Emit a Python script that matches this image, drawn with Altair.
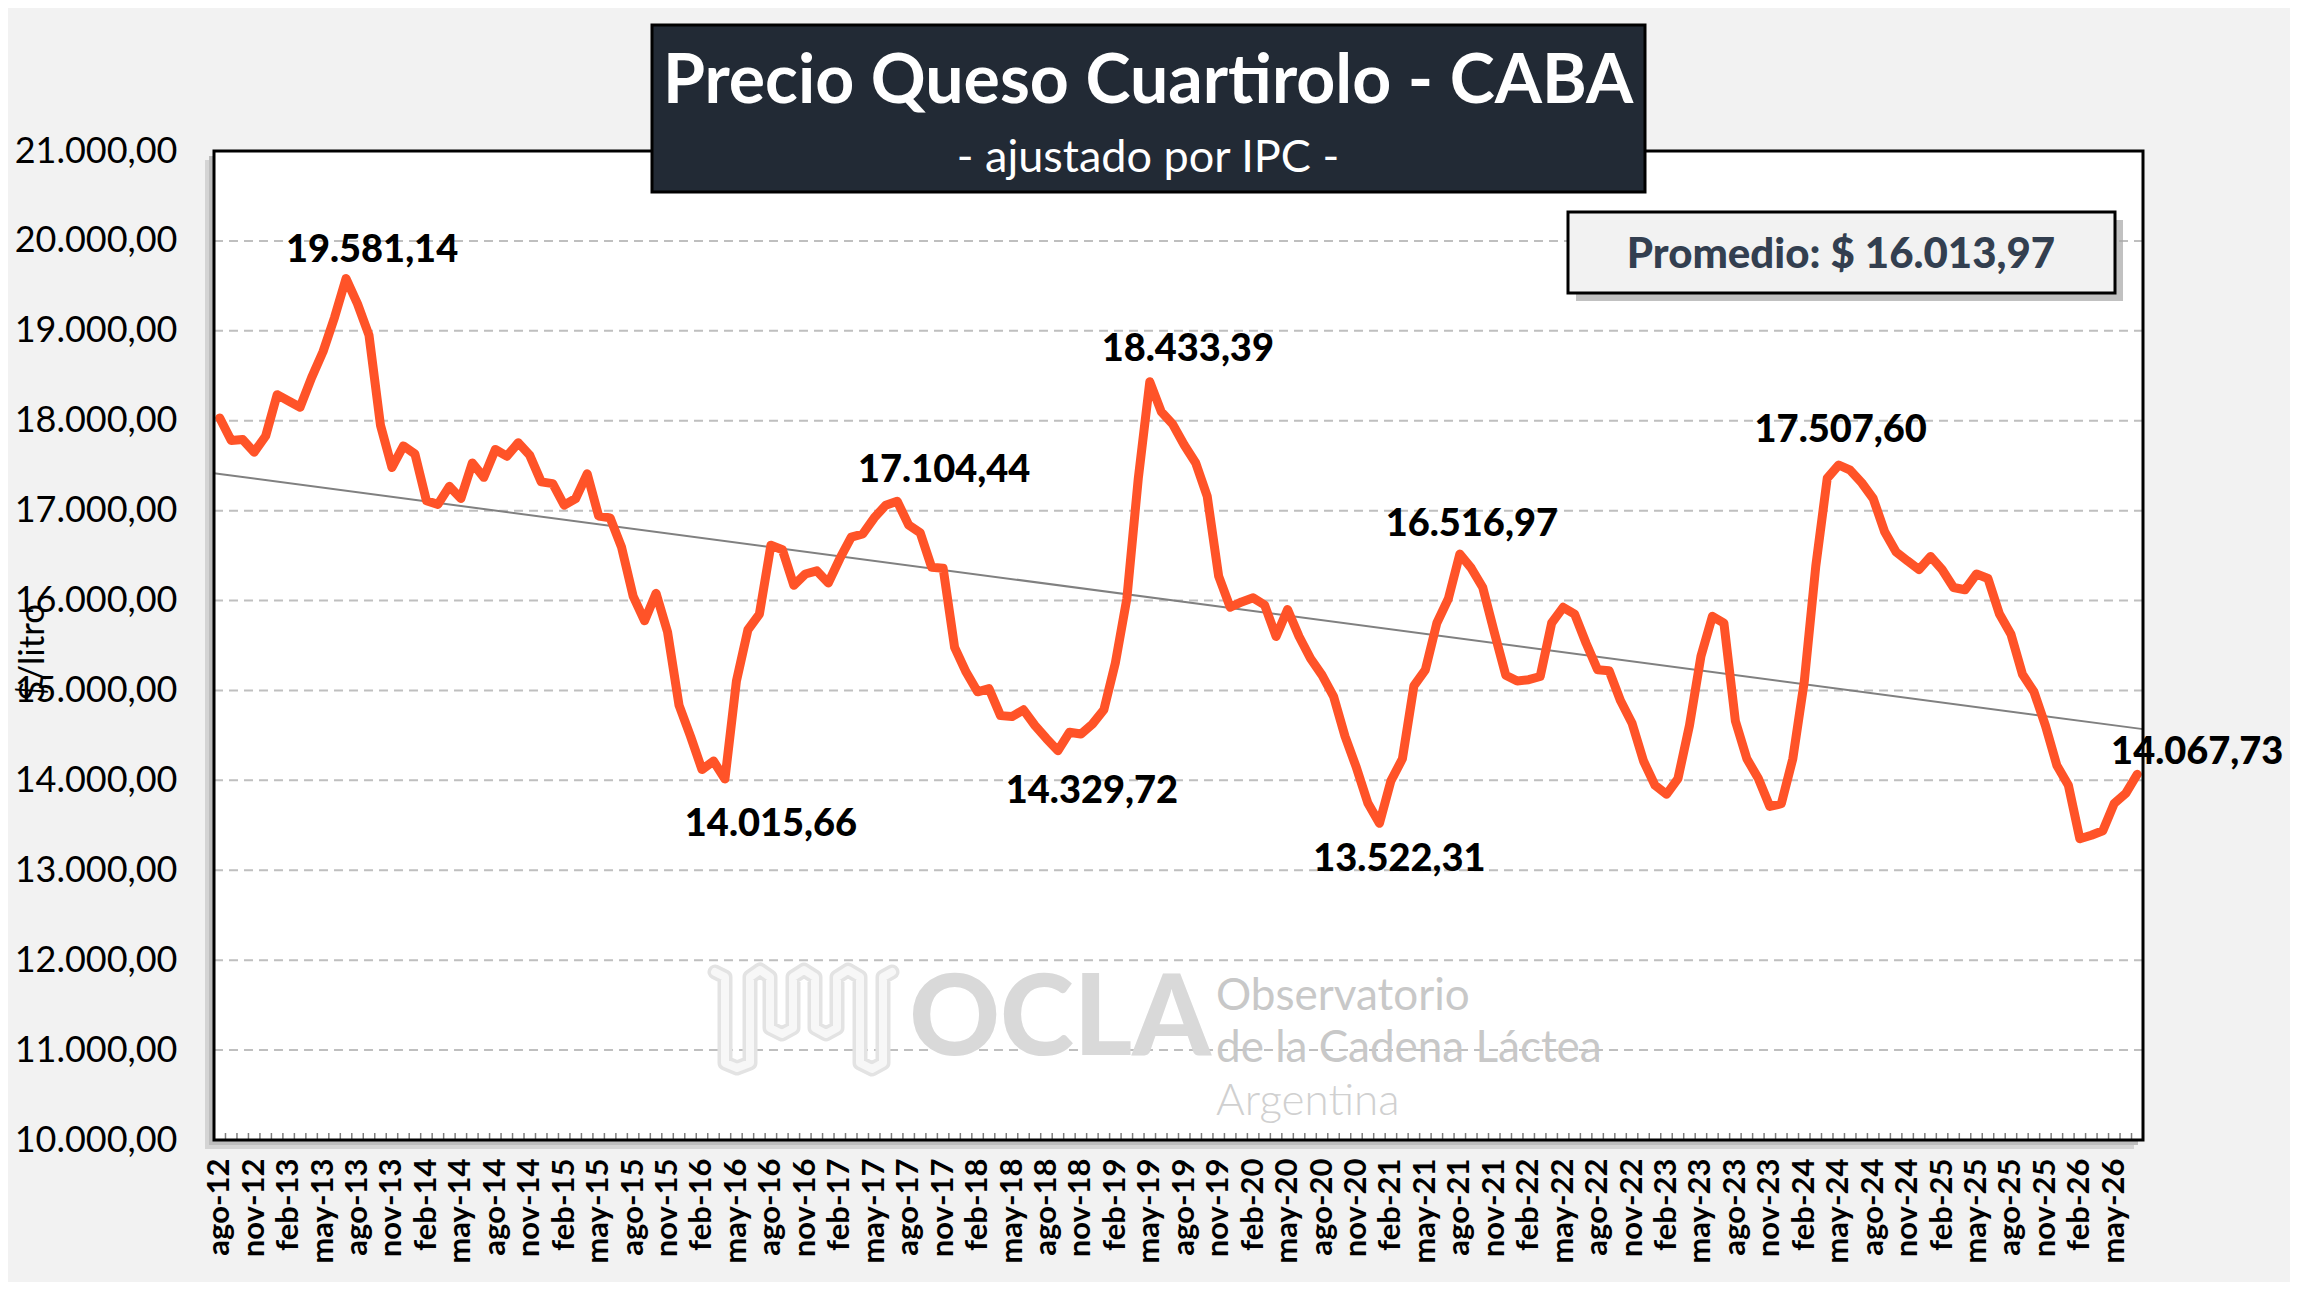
import altair as alt
import pandas as pd

"""
Precio Queso Cuartirolo - CABA (ajustado por IPC)
"""
# datos
meses = ['ene', 'feb', 'mar', 'abr', 'may', 'jun', 'jul', 'ago', 'sep', 'oct', 'nov', 'dic']
anios = list(range(12, 27))

precio = [
    18030, 17780, 17790, 17650, 17830, 18290, 18220, 18150, 18480, 18770,
    19150, 19581.14, 19300, 18950, 17950, 17480, 17720, 17630, 17110, 17070,
    17270, 17135, 17530, 17370, 17680, 17605, 17755, 17615, 17320, 17300,
    17060, 17135, 17410, 16940, 16920, 16590, 16050, 15775, 16080, 15650,
    14835, 14490, 14120, 14215, 14015.66, 15105, 15675, 15850, 16615, 16565,
    16170, 16295, 16330, 16195, 16465, 16705, 16740, 16920, 17060, 17104.44,
    16840, 16755, 16370, 16360, 15480, 15205, 14985, 15020, 14720, 14710,
    14785, 14610, 14465, 14329.72, 14535, 14515, 14625, 14785, 15305, 16020,
    17360, 18433.39, 18100, 17960, 17730, 17530, 17160, 16270, 15925, 15985,
    16030, 15950, 15600, 15900, 15600, 15355, 15170, 14935, 14490, 14140,
    13745, 13522.31, 13995, 14240, 15050, 15230, 15750, 16020, 16516.97, 16360,
    16145, 15650, 15170, 15105, 15120, 15155, 15750, 15925, 15850, 15525,
    15230, 15220, 14885, 14635, 14215, 13945, 13845, 14020, 14610, 15380,
    15825, 15750, 14660, 14240, 14020, 13710, 13740, 14240, 15100, 16380,
    17360, 17507.60, 17450, 17310, 17135, 16765, 16540, 16440, 16345, 16490,
    16345, 16145, 16120, 16295, 16245, 15850, 15625, 15180, 14985, 14610,
    14165, 13945, 13350, 13390, 13440, 13745, 13855, 14067.73,
]

# meses etiquetados con su valor (picos y valles)
destacados = [11, 44, 59, 73, 81, 101, 108, 141, 167]
# desplazamiento de cada etiqueta (px)
etiqueta_dx = [26, 46, 47, 34, 38, 20, 12, 2, 60]
etiqueta_dy = [-28, 46, -30, 41, -32, 37, -29, -34, -21]

y_ticks = list(range(10000, 21001, 1000))
promedio_txt = 'Promedio: $ 16.013,97'

# trazo del logo (px, relativo al area de grafico)
logo_x = [501, 511, 511, 523, 536, 536, 546, 556, 556, 568, 579, 579, 590, 601,
          601, 612, 623, 623, 634, 646, 646, 658, 669, 669, 678]
logo_y = [821, 826, 912, 917, 912, 826, 819, 826, 877, 883, 877, 826, 819, 826,
          877, 883, 877, 826, 819, 826, 912, 918, 912, 826, 821]

# armado de tablas
etiquetas_mes = [f'{m}-{a}' for a in anios for m in meses][7:7 + len(precio)]
df = pd.DataFrame({'idx': range(len(precio)), 'mes': etiquetas_mes, 'val': precio})


def fmt_es(v):
    return f'{v:,.2f}'.replace(',', 'X').replace('.', ',').replace('X', '.')


W, H = 1929, 989
FONT = 'Lato'
NARANJA = '#FF5328'

x_scale = alt.Scale(domain=[-0.5, len(precio) - 0.5], nice=False, zero=False)
y_scale = alt.Scale(domain=[10000, 21000], nice=False, zero=False)
lbl_expr = '[' + ','.join(f"'{e}'" for e in etiquetas_mes) + '][datum.value]'

# ejes (el mismo objeto en todas las capas)
x_axis = alt.Axis(values=list(range(0, len(precio), 3)), labelExpr=lbl_expr,
                  labelAngle=270, labelAlign='right', labelBaseline='middle',
                  labelFont=FONT, labelFontSize=31, labelFontWeight='bold',
                  labelColor='black', labelPadding=18, labelOverlap=False,
                  ticks=False, domain=False, grid=False, title='')
y_axis = alt.Axis(values=y_ticks, labelExpr="format(datum.value / 1000, 'd') + '.000,00'",
                  labelFont=FONT, labelFontSize=36, labelColor='black',
                  labelPadding=37, ticks=False, domain=False, grid=False,
                  title='$/litro', titleFont=FONT, titleFontSize=35,
                  titleFontWeight='normal', titleColor='black', titleAngle=270,
                  titleX=-182, titleY=501, titleAlign='center', titleBaseline='middle')

uno = pd.DataFrame({'a': [0]})

# sombra + fondo del area de grafico
sombra = alt.Chart(uno).mark_rect(color='#D4D4D4').encode(
    x=alt.value(-9), x2=alt.value(W - 9), y=alt.value(9), y2=alt.value(H + 9))
sombra2 = alt.Chart(uno).mark_rect(color='#BDBDBD').encode(
    x=alt.value(-5), x2=alt.value(W - 5), y=alt.value(5), y2=alt.value(H + 5))
fondo = alt.Chart(uno).mark_rect(color='white').encode(
    x=alt.value(0), x2=alt.value(W), y=alt.value(0), y2=alt.value(H))

# grilla
grilla = alt.Chart(pd.DataFrame({'val': y_ticks[1:-1]})).mark_rule(
    color='#BFBFBF', strokeWidth=2, strokeDash=[9, 6]
).encode(y=alt.Y('val:Q', scale=y_scale, axis=y_axis))

# marcas del eje x
limites = pd.DataFrame({'idx': [i - 0.5 for i in range(1, len(precio))]})
marcas = alt.Chart(limites).mark_rule(color='#7F7F7F', strokeWidth=1.5).encode(
    x=alt.X('idx:Q', scale=x_scale, axis=x_axis),
    y=alt.value(H - 7), y2=alt.value(H))

# marca de agua
logo_df = pd.DataFrame({'px': logo_x, 'py': logo_y, 'o': range(len(logo_x))})
logo = [
    alt.Chart(logo_df).mark_line(color='#E3E3E3', strokeWidth=15, strokeJoin='round',
                                 strokeCap='round').encode(
        x=alt.X('px:Q', scale=None), y=alt.Y('py:Q', scale=None), order='o:Q'),
    alt.Chart(logo_df).mark_line(color='#F7F7F7', strokeWidth=8, strokeJoin='round',
                                 strokeCap='round').encode(
        x=alt.X('px:Q', scale=None), y=alt.Y('py:Q', scale=None), order='o:Q'),
]
agua = [
    alt.Chart(uno).mark_text(text='OCLA', font=FONT, fontSize=112, fontWeight=900,
                             color='#D9D9D9', align='center', baseline='middle')
    .encode(x=alt.value(846), y=alt.value(870)),
    alt.Chart(uno).mark_text(text='Observatorio', font=FONT, fontSize=44,
                             color='#C8C8C8', align='left', baseline='middle')
    .encode(x=alt.value(1002), y=alt.value(846)),
    alt.Chart(uno).mark_text(text='de la Cadena Láctea', font=FONT, fontSize=44,
                             color='#C8C8C8', align='left', baseline='middle')
    .encode(x=alt.value(1002), y=alt.value(898)),
    alt.Chart(uno).mark_text(text='Argentina', font=FONT, fontSize=44, fontWeight=300,
                             color='#D0D0D0', align='left', baseline='middle')
    .encode(x=alt.value(1002), y=alt.value(951)),
]

base = alt.Chart(df)

# tendencia
tendencia = base.transform_regression(
    'idx', 'val', extent=[-0.5, len(precio) - 0.5]
).mark_line(color='#808080', strokeWidth=2).encode(
    x=alt.X('idx:Q', scale=x_scale, axis=x_axis),
    y=alt.Y('val:Q', scale=y_scale, axis=y_axis))

# linea
linea = base.mark_line(color=NARANJA, strokeWidth=9, strokeJoin='round', strokeCap='round').encode(
    x=alt.X('idx:Q', scale=x_scale, axis=x_axis),
    y=alt.Y('val:Q', scale=y_scale, axis=y_axis))

# etiquetas de picos
etiquetas = []
for k, dx, dy in zip(destacados, etiqueta_dx, etiqueta_dy):
    d = pd.DataFrame({'idx': [k], 'val': [precio[k]], 'txt': [fmt_es(precio[k])]})
    etiquetas.append(
        alt.Chart(d).mark_text(font=FONT, fontSize=38, fontWeight=900, color='black',
                               dx=dx, dy=dy, align='center', baseline='middle').encode(
            x=alt.X('idx:Q', scale=x_scale, axis=x_axis),
            y=alt.Y('val:Q', scale=y_scale, axis=y_axis),
            text='txt:N'))

# borde del area de grafico
borde = alt.Chart(uno).mark_rect(fillOpacity=0, stroke='black', strokeWidth=3).encode(
    x=alt.value(0), x2=alt.value(W), y=alt.value(0), y2=alt.value(H))

# titulo
caja_titulo = alt.Chart(uno).mark_rect(color='#222A35', stroke='black', strokeWidth=3).encode(
    x=alt.value(438), x2=alt.value(1431), y=alt.value(-126), y2=alt.value(41))
titulo = alt.Chart(uno).mark_text(text='Precio Queso Cuartirolo - CABA', font=FONT,
                                  fontSize=68, fontWeight='bold', color='white',
                                  align='center', baseline='middle').encode(
    x=alt.value(934), y=alt.value(-68))
subtitulo = alt.Chart(uno).mark_text(text='- ajustado por IPC -', font=FONT, fontSize=45,
                                     color='white', align='center', baseline='middle').encode(
    x=alt.value(934), y=alt.value(7))

# promedio
sombra_prom = alt.Chart(uno).mark_rect(color='#A6A6A6', opacity=0.7).encode(
    x=alt.value(1362), x2=alt.value(1909), y=alt.value(69), y2=alt.value(150))
caja_prom = alt.Chart(uno).mark_rect(color='#F2F2F2', stroke='black', strokeWidth=3).encode(
    x=alt.value(1354), x2=alt.value(1901), y=alt.value(61), y2=alt.value(142))
texto_prom = alt.Chart(uno).mark_text(text=promedio_txt, font=FONT, fontSize=42,
                                      fontWeight=900, color='#333F50',
                                      align='center', baseline='middle').encode(
    x=alt.value(1627), y=alt.value(104))

chart = alt.layer(
    sombra, sombra2, fondo, grilla, marcas, *logo, *agua, tendencia, linea, *etiquetas,
    borde, caja_titulo, titulo, subtitulo, sombra_prom, caja_prom, texto_prom
).properties(
    width=W, height=H,
    autosize=alt.AutoSizeParams(type='none'),
    padding={'left': 206, 'top': 143, 'right': 147, 'bottom': 142},
    background='#F2F2F2',
).configure_view(strokeWidth=0)

chart.save('out.html', embed_options={'renderer': 'svg', 'actions': False})
